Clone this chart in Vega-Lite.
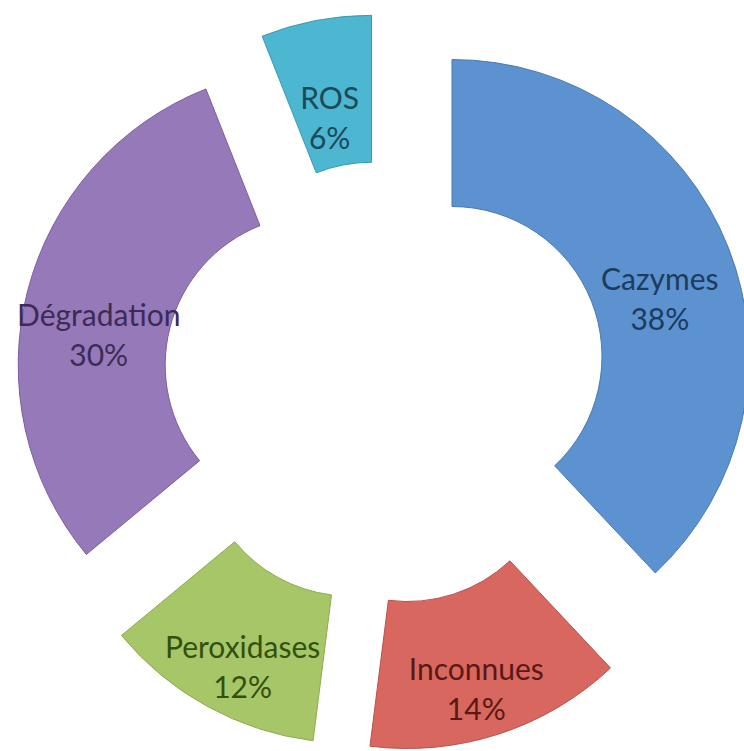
{
  "$schema": "https://vega.github.io/schema/vega-lite/v6.json",
  "autosize": {"type": "none"},
  "width": 718,
  "height": 736,
  "padding": {"left": 26, "top": 15, "right": 0, "bottom": 0},
  "background": "white",
  "config": {"view": {"stroke": null}},
  "data": {
    "values": [
      {"category": "Cazymes", "value": 38, "ord": 1, "label": "Cazymes\n38%"},
      {"category": "Inconnues", "value": 14, "ord": 2, "label": "Inconnues\n14%"},
      {"category": "Peroxidases", "value": 12, "ord": 3, "label": "Peroxidases\n12%"},
      {"category": "Dégradation", "value": 30, "ord": 4, "label": "Dégradation\n30%"},
      {"category": "ROS", "value": 6, "ord": 5, "label": "ROS\n6%"}
    ]
  },
  "encoding": {
    "theta": {"field": "value", "type": "quantitative", "stack": true},
    "order": {"field": "ord", "type": "quantitative"}
  },
  "layer": [
    {
      "mark": {"type": "arc", "innerRadius": 150, "outerRadius": 297, "xOffset": 67, "yOffset": -26.5, "fill": "#5B92CF", "stroke": "#4A7AB3", "strokeWidth": 1},
      "encoding": {"opacity": {"condition": {"test": "datum.category === 'Cazymes'", "value": 1}, "value": 0}}
    },
    {
      "mark": {"type": "arc", "innerRadius": 150, "outerRadius": 297, "xOffset": 22.2, "yOffset": 68.5, "fill": "#D8675F", "stroke": "#B9524B", "strokeWidth": 1},
      "encoding": {"opacity": {"condition": {"test": "datum.category === 'Inconnues'", "value": 1}, "value": 0}}
    },
    {
      "mark": {"type": "arc", "innerRadius": 150, "outerRadius": 297, "xOffset": -34.7, "yOffset": 63.1, "fill": "#A6C667", "stroke": "#8DAB52", "strokeWidth": 1},
      "encoding": {"opacity": {"condition": {"test": "datum.category === 'Peroxidases'", "value": 1}, "value": 0}}
    },
    {
      "mark": {"type": "arc", "innerRadius": 150, "outerRadius": 297, "xOffset": -69.8, "yOffset": -17.9, "fill": "#9679B9", "stroke": "#7B5F9E", "strokeWidth": 1},
      "encoding": {"opacity": {"condition": {"test": "datum.category === 'Dégradation'", "value": 1}, "value": 0}}
    },
    {
      "mark": {"type": "arc", "innerRadius": 150, "outerRadius": 297, "xOffset": -13.5, "yOffset": -70.7, "fill": "#4DB6D0", "stroke": "#3B9AB3", "strokeWidth": 1},
      "encoding": {"opacity": {"condition": {"test": "datum.category === 'ROS'", "value": 1}, "value": 0}}
    },
    {
      "mark": {"type": "text", "radius": 223.5, "xOffset": 67, "yOffset": -26.5, "dy": 7, "fill": "#1E3B5E", "font": "Lato", "fontSize": 30, "lineBreak": "\n", "lineHeight": 40, "align": "center", "baseline": "middle"},
      "encoding": {"text": {"field": "label", "type": "nominal"}, "opacity": {"condition": {"test": "datum.category === 'Cazymes'", "value": 1}, "value": 0}}
    },
    {
      "mark": {"type": "text", "radius": 223.5, "xOffset": 22.2, "yOffset": 68.5, "dy": 7, "fill": "#5A1816", "font": "Lato", "fontSize": 30, "lineBreak": "\n", "lineHeight": 40, "align": "center", "baseline": "middle"},
      "encoding": {"text": {"field": "label", "type": "nominal"}, "opacity": {"condition": {"test": "datum.category === 'Inconnues'", "value": 1}, "value": 0}}
    },
    {
      "mark": {"type": "text", "radius": 223.5, "xOffset": -34.7, "yOffset": 63.1, "dy": 7, "fill": "#34500F", "font": "Lato", "fontSize": 30, "lineBreak": "\n", "lineHeight": 40, "align": "center", "baseline": "middle"},
      "encoding": {"text": {"field": "label", "type": "nominal"}, "opacity": {"condition": {"test": "datum.category === 'Peroxidases'", "value": 1}, "value": 0}}
    },
    {
      "mark": {"type": "text", "radius": 223.5, "xOffset": -69.8, "yOffset": -17.9, "dy": 7, "fill": "#3D2B56", "font": "Lato", "fontSize": 30, "lineBreak": "\n", "lineHeight": 40, "align": "center", "baseline": "middle"},
      "encoding": {"text": {"field": "label", "type": "nominal"}, "opacity": {"condition": {"test": "datum.category === 'Dégradation'", "value": 1}, "value": 0}}
    },
    {
      "mark": {"type": "text", "radius": 223.5, "xOffset": -13.5, "yOffset": -70.7, "dy": 7, "fill": "#1C4A5A", "font": "Lato", "fontSize": 30, "lineBreak": "\n", "lineHeight": 40, "align": "center", "baseline": "middle"},
      "encoding": {"text": {"field": "label", "type": "nominal"}, "opacity": {"condition": {"test": "datum.category === 'ROS'", "value": 1}, "value": 0}}
    }
  ]
}
